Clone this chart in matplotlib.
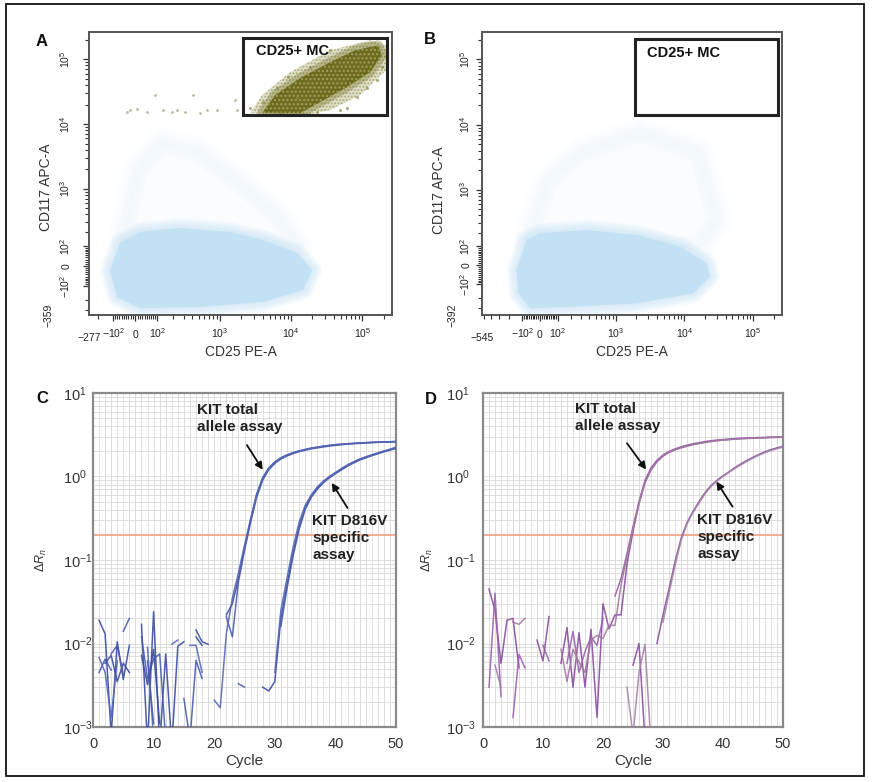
import numpy as np
import matplotlib
matplotlib.use('Agg')
import matplotlib.pyplot as plt
from matplotlib.patches import Rectangle
from matplotlib import transforms
from matplotlib.ticker import LogLocator, NullFormatter

plt.rcParams['font.family'] = 'Liberation Sans'
plt.rcParams['mathtext.fontset'] = 'custom'
plt.rcParams['mathtext.rm'] = 'Liberation Sans'
plt.rcParams['mathtext.it'] = 'Liberation Sans:italic'
plt.rcParams['mathtext.bf'] = 'Liberation Sans:bold'
plt.rcParams['hatch.linewidth'] = 1.0

nan = np.nan

# ---- flow cytometry (CD25 PE-A vs CD117 APC-A), outlines of the event clouds ----
a_core_x = [-119, -67, 20, 260, 1390, 4050, 12150, 19800, 14800, 4050, 470, 20, -82]
a_core_y = [-19, 118, 197, 233, 197, 137, 62, -19, -125, -215, -264, -275, -174]
a_haze_x = [-67, 0, 115, 520, 1920, 7000, 13400]
a_haze_y = [137, 1950, 5650, 3960, 1360, 392, 106]
a_mc_x = [3920, 5960, 13400, 35400, 79400, 167000, 190000, 129000, 57500, 25600, 13400]
a_mc_y = [14700, 27900, 51000, 89800, 137000, 164000, 115000, 63000, 35700, 21800, 14700]
a_mc_outer_x = [2660, 3920, 9700, 35400, 129000, 217000, 217000, 93300, 35400, 18500]
a_mc_outer_y = [14700, 27900, 63000, 137000, 196000, 164000, 67700, 27900, 16400, 14200]
a_mc_dots_x = [2660, 4040, 6360, 7010, 9090, 48900, 84700, 117000, 162000, 167000,
               138000, 190000, 18500, 12150, 23200, 35400, 61300]
a_mc_dots_y = [17600, 21800, 35700, 14700, 52800, 16400, 26000, 35700, 47500, 137000,
               147500, 75200, 75200, 26000, 15300, 137000, 17600]
a_stray_x = [-37, -22, 6, 49, 88, 134, 191, 231, 311, 414, 519, 648, 900, 1630, 1730]
a_stray_y = [15400, 16400, 16800, 15400, 27900, 16400, 15400, 16400, 15400, 27900,
             14600, 16400, 16400, 23300, 16400]
a_gate = [2120, 13700, 224000, 210600]

b_core_x = [-138, -74, 0, 368, 2040, 8640, 21100, 23500, 13450, 2040, 191, -54, -127]
b_core_y = [-23, 142, 194, 223, 180, 99, 10, -58, -162, -250, -286, -302, -162]
b_haze_x = [-84, 28, 287, 2280, 16800, 32800, 16800]
b_haze_y = [142, 1415, 4090, 8280, 4090, 330, 79]
b_gate = [1925, 14000, 226800, 202900]

flow_major = [-100, 0, 100, 1e3, 1e4, 1e5]
flow_labels = [r'$-10^2$', r'$0$', r'$10^2$', r'$10^3$', r'$10^4$', r'$10^5$']

# ---- real-time PCR, delta Rn per cycle (cycles 1..50) ----
cycles = np.arange(1, 51)
threshold = 0.2

c_tot1 = [0.019, 0.013, 0.0008, 0.0105, 0.0037, 0.0095, nan, 0.017, 0.0006, 0.024,
          0.0006, 0.0075, 0.0006, 0.0093, 0.0105, nan, 0.0145, 0.0105, 0.0098, nan,
          nan, 0.022, 0.03, 0.06, 0.14, 0.3, 0.6, 0.95, 1.25, 1.48,
          1.66, 1.8, 1.92, 2.02, 2.1, 2.18, 2.24, 2.3, 2.35, 2.4,
          2.43, 2.46, 2.49, 2.52, 2.54, 2.56, 2.58, 2.59, 2.6, 2.62]
c_tot2 = [0.0045, 0.0065, 0.0048, nan, 0.014, 0.02, nan, 0.012, 0.0038, 0.0065,
          0.0075, 0.0007, nan, nan, 0.0022, 0.0007, 0.0063, 0.0038, nan, nan,
          nan, 0.021, 0.012, 0.055, 0.13, 0.28, 0.56, 0.9, 1.2, 1.43,
          1.62, 1.76, 1.88, 1.98, 2.06, 2.14, 2.2, 2.26, 2.31, 2.36,
          2.4, 2.44, 2.47, 2.49, 2.52, 2.54, 2.56, 2.58, 2.59, 2.6]
c_tot3 = [0.0068, 0.0045, 0.0013, 0.0062, nan, nan, nan, nan, 0.009, 0.0007,
          nan, nan, 0.0098, 0.011, nan, 0.0095, 0.0095, 0.0045, nan, 0.0021,
          0.0017, 0.013, 0.035, 0.07, 0.15, 0.31, 0.62, 0.97, 1.27, 1.5,
          1.68, 1.82, 1.93, 2.03, 2.11, 2.19, 2.25, 2.31, 2.36, 2.41,
          2.44, 2.47, 2.5, 2.53, 2.55, 2.57, 2.59, 2.6, 2.61, 2.63]
c_mut1 = [nan, 0.0058, 0.0072, 0.0035, 0.0058, 0.0045, nan, 0.0072, 0.0032, 0.0085,
          0.0011, nan, nan, nan, nan, nan, 0.012, 0.0095, nan, nan,
          nan, nan, nan, nan, nan, nan, nan, 0.003, 0.0027, 0.0035,
          0.02, 0.05, 0.12, 0.25, 0.42, 0.58, 0.72, 0.86, 0.98, 1.1,
          1.22, 1.36, 1.48, 1.6, 1.7, 1.8, 1.9, 2.0, 2.1, 2.2]
c_mut2 = [0.0052, nan, 0.0075, 0.0095, 0.0042, nan, nan, nan, 0.0062, 0.0011,
          nan, nan, nan, nan, nan, nan, nan, nan, nan, nan,
          nan, nan, nan, 0.0033, 0.003, nan, nan, nan, nan, nan,
          0.016, 0.045, 0.11, 0.23, 0.4, 0.56, 0.7, 0.84, 0.96, 1.08,
          1.2, 1.33, 1.45, 1.57, 1.67, 1.77, 1.87, 1.97, 2.07, 2.17]
c_mut3 = [nan, nan, nan, nan, nan, nan, nan, nan, nan, nan,
          nan, nan, nan, nan, nan, nan, nan, nan, nan, nan,
          nan, nan, nan, nan, nan, nan, nan, nan, nan, 0.0045,
          0.025, 0.06, 0.14, 0.28, 0.45, 0.6, 0.75, 0.88, 1.0, 1.12,
          1.25, 1.38, 1.5, 1.62, 1.72, 1.82, 1.92, 2.02, 2.12, 2.25]

d_tot1 = [0.045, 0.025, 0.0058, 0.019, 0.02, 0.0051, nan, nan, 0.011, 0.0062,
          0.021, nan, 0.0058, 0.0155, 0.003, 0.0135, 0.003, 0.0148, 0.0013, 0.03,
          0.015, 0.022, 0.022, 0.09, 0.22, 0.48, 0.86, 1.22, 1.52, 1.77,
          1.96, 2.1, 2.23, 2.33, 2.43, 2.5, 2.58, 2.64, 2.7, 2.74,
          2.78, 2.82, 2.85, 2.87, 2.89, 2.91, 2.92, 2.94, 2.95, 2.96]
d_tot2 = [0.003, 0.04, 0.0023, nan, 0.0013, 0.0074, 0.0051, nan, nan, 0.0095,
          0.0062, nan, nan, 0.0058, 0.014, 0.0045, 0.008, 0.012, 0.0095, 0.02,
          nan, 0.037, 0.06, 0.12, 0.25, 0.5, 0.9, 1.27, 1.57, 1.81,
          2.0, 2.14, 2.27, 2.37, 2.47, 2.54, 2.62, 2.68, 2.73, 2.77,
          2.81, 2.84, 2.87, 2.89, 2.91, 2.93, 2.94, 2.96, 2.97, 2.98]
d_tot3 = [nan, 0.0055, 0.003, nan, 0.018, 0.017, 0.02, nan, nan, nan,
          nan, nan, 0.0085, 0.0035, 0.0085, 0.006, 0.0045, 0.011, 0.0125, 0.0115,
          0.0165, 0.0165, 0.05, 0.11, 0.24, 0.47, 0.84, 1.19, 1.5, 1.75,
          1.94, 2.08, 2.2, 2.3, 2.4, 2.48, 2.55, 2.62, 2.68, 2.72,
          2.76, 2.8, 2.83, 2.85, 2.87, 2.89, 2.91, 2.93, 2.94, 2.95]
d_mut1 = [nan, nan, nan, nan, nan, nan, nan, nan, nan, nan,
          nan, nan, nan, nan, nan, nan, nan, nan, nan, nan,
          nan, nan, nan, nan, 0.0055, 0.01, 0.0007, nan, 0.01, 0.022,
          0.045, 0.095, 0.18, 0.28, 0.38, 0.5, 0.64, 0.78, 0.9, 1.02,
          1.14, 1.28, 1.42, 1.56, 1.7, 1.84, 1.98, 2.1, 2.2, 2.3]
d_mut2 = [nan, nan, nan, nan, nan, nan, nan, nan, nan, nan,
          nan, nan, nan, nan, nan, nan, nan, nan, nan, nan,
          nan, nan, nan, 0.003, 0.0008, 0.0045, 0.0098, 0.0006, nan, 0.018,
          0.04, 0.085, 0.17, 0.27, 0.37, 0.48, 0.62, 0.76, 0.88, 1.0,
          1.12, 1.25, 1.38, 1.52, 1.66, 1.8, 1.93, 2.05, 2.15, 2.25]

c_runs = [c_tot1, c_tot2, c_tot3, c_mut1, c_mut2, c_mut3]
c_colors = ['#3a4ca2', '#4b5cb0', '#5867b4', '#3a4ca2', '#4b5cb0', '#5867b4']
d_runs = [d_tot1, d_tot2, d_tot3, d_mut1, d_mut2]
d_colors = ['#8a4c9f', '#9a62ae', '#a2799f', '#8a4c9f', '#a586a8']

BLUE = '#c3e1f5'


def soft_fill(ax, xs, ys, color, widths, alpha):
    # stack wide translucent strokes to fade the cloud edge
    for lw in widths:
        ax.fill(xs, ys, facecolor='none', edgecolor=color, lw=lw, alpha=alpha,
                joinstyle='round')


def flow_panel(ax, xmin, ymin, wx, wy, core, haze, gate, ypad):
    ax.set_xscale('asinh', linear_width=wx)
    ax.set_yscale('asinh', linear_width=wy)
    ax.set_xlim(xmin, 262144)
    ax.set_ylim(ymin, 262144)

    ax.fill(haze[0], haze[1], color=BLUE, alpha=0.07, lw=0)
    soft_fill(ax, haze[0], haze[1], BLUE, [18, 12, 6], 0.04)
    soft_fill(ax, core[0], core[1], BLUE, [14, 11, 8, 5, 2], 0.16)
    ax.fill(core[0], core[1], color=BLUE, lw=0)

    g = Rectangle((gate[0], gate[1]), gate[2] - gate[0], gate[3] - gate[1],
                  fill=False, ec='#222222', lw=2.2, zorder=5)
    ax.add_patch(g)
    ax.text(gate[0] * 1.5, gate[3] * 0.8, 'CD25+ MC', fontsize=10.5,
            fontweight='bold', va='top', ha='left', color='#111111', zorder=6)

    ax.set_xticks(flow_major, flow_labels)
    ax.set_yticks(flow_major, flow_labels)
    plt.setp(ax.get_xticklabels(), va='baseline')
    plt.setp(ax.get_yticklabels(), rotation=90, rotation_mode='anchor',
             ha='center', va='baseline')
    minor = ([-v for v in range(200, 1000, 100)] + [v for v in range(-90, 100, 10) if v != 0]
             + list(range(200, 1000, 100)) + list(range(2000, 10000, 1000))
             + list(range(20000, 100000, 10000)) + [200000])
    ax.set_xticks([m for m in minor if m > xmin], minor=True)
    ax.set_yticks([m for m in minor if m > ymin], minor=True)
    ax.tick_params(which='major', direction='out', length=4.5, width=0.9,
                   color='#333333', labelsize=7.5, labelcolor='#222222')
    ax.tick_params(which='minor', direction='out', length=2.8, width=0.8, color='#333333')
    ax.tick_params(axis='x', pad=12)
    ax.tick_params(axis='y', pad=ypad)
    for s in ax.spines.values():
        s.set_color('#555555')
        s.set_linewidth(1.4)

    ax.set_xlabel('CD25 PE-A', fontsize=10, color='#333333')
    ax.set_ylabel('CD117 APC-A', fontsize=10, color='#333333')
    return g


def qpcr_panel(ax, runs, colors, notes, ypad):
    ax.set_yscale('log')
    ax.set_xlim(0, 50)
    ax.set_ylim(1e-3, 10)
    ax.set_xticks([0, 10, 20, 30, 40, 50])
    ax.set_xticks(np.arange(0, 51), minor=True)
    ax.set_yticks([1e-3, 1e-2, 1e-1, 1, 10],
                  [r'$10^{-3}$', r'$10^{-2}$', r'$10^{-1}$', r'$10^{0}$', r'$10^{1}$'])
    plt.setp(ax.get_yticklabels(), ha='left')
    ax.yaxis.set_minor_locator(LogLocator(base=10, subs=np.arange(2, 10), numticks=50))
    ax.yaxis.set_minor_formatter(NullFormatter())
    ax.grid(which='both', color='#d9d9d9', lw=0.6)
    ax.set_axisbelow(True)
    ax.tick_params(which='both', length=0)
    ax.tick_params(axis='both', labelsize=10.5, labelcolor='#333333')
    ax.tick_params(axis='x', pad=7)
    ax.tick_params(axis='y', pad=ypad)
    for s in ax.spines.values():
        s.set_color('#8a8a8a')
        s.set_linewidth(1.6)

    ax.axhline(threshold, color='#f4a88c', lw=1.3, zorder=2)
    for vals, col in zip(runs, colors):
        ax.plot(cycles, vals, color=col, lw=1.1, alpha=0.9, zorder=3)

    for text, txy, tail, tip in notes:
        ax.text(txy[0], txy[1], text, fontsize=11, fontweight='bold', va='top',
                ha='left', linespacing=1.3, color='#222222', zorder=5)
        ax.annotate('', xy=tip, xytext=tail,
                    arrowprops=dict(arrowstyle='-|>', color='#111111', lw=1.3,
                                    mutation_scale=11, shrinkA=0, shrinkB=0))

    ax.set_xlabel('Cycle', fontsize=11, color='#333333')
    ax.set_ylabel(r'$\Delta R_n$', fontsize=9, color='#333333')


fig = plt.figure(figsize=(8.72, 7.82), dpi=100)
W, H = 872, 782


def box(l, t, r, b):
    return [l / W, 1 - b / H, (r - l) / W, (b - t) / H]


ax_a = fig.add_axes(box(89, 32, 392, 315))
ax_b = fig.add_axes(box(482, 32, 782, 315))
ax_c = fig.add_axes(box(93, 393, 396, 727))
ax_d = fig.add_axes(box(483, 393, 783, 727))

# panel A: gated CD25+ mast cells shown in olive
ga = flow_panel(ax_a, -277, -359, 130, 130, (a_core_x, a_core_y), (a_haze_x, a_haze_y), a_gate, 9)
mc_parts = []
mc_parts += ax_a.fill(a_mc_outer_x, a_mc_outer_y, facecolor='#c2c196', edgecolor='#7d7c35',
                      alpha=0.5, lw=0, hatch='.....')
mc_parts += ax_a.fill(a_mc_x, a_mc_y, facecolor='none', edgecolor='#6f6e1c',
                      alpha=0.35, lw=7, joinstyle='round')
mc_parts += ax_a.fill(a_mc_x, a_mc_y, facecolor='#666514', edgecolor='#a3a266',
                      alpha=0.92, lw=0, hatch='....')
mc_parts.append(ax_a.scatter(a_mc_dots_x, a_mc_dots_y, s=5, color='#8a8945', alpha=0.7, lw=0))
for art in mc_parts:
    art.set_clip_path(ga)
ax_a.scatter(a_stray_x, a_stray_y, s=4, color='#a8a78a', alpha=0.8, lw=0)

# panel B: no events inside the gate
flow_panel(ax_b, -545, -392, 160, 140, (b_core_x, b_core_y), (b_haze_x, b_haze_y), b_gate, 4.5)

ax_a.xaxis.set_label_coords(0.5, -0.105)
ax_a.yaxis.set_label_coords(-0.12, 0.45)
ax_b.xaxis.set_label_coords(0.5, -0.105)
ax_b.yaxis.set_label_coords(-0.12, 0.44)

for ax, xmin, ymin, lab_x, lab_y, yoff in [(ax_a, -277, -359, '\u2212277', '\u2212359', -0.135),
                                          (ax_b, -545, -392, '\u2212545', '\u2212392', -0.097)]:
    tx = transforms.blended_transform_factory(ax.transData, ax.transAxes)
    ax.text(xmin, -0.082, lab_x, transform=tx, fontsize=7.5, ha='center', va='center',
            color='#222222')
    ty = transforms.blended_transform_factory(ax.transAxes, ax.transData)
    ax.text(yoff, ymin, lab_y, transform=ty, fontsize=7.5, ha='center', va='center',
            rotation=90, color='#222222')

# panels C and D: KIT total allele vs KIT D816V specific amplification
qpcr_panel(ax_c, c_runs, c_colors,
           [('KIT total\nallele assay', (17.1, 7.6), (25.4, 2.38), (28.0, 1.2)),
            ('KIT D816V\nspecific\nassay', (36.2, 0.36), (42.0, 0.42), (39.4, 0.84))], 21.5)
qpcr_panel(ax_d, d_runs, d_colors,
           [('KIT total\nallele assay', (15.4, 7.9), (24.0, 2.5), (27.2, 1.21)),
            ('KIT D816V\nspecific\nassay', (35.7, 0.37), (41.6, 0.435), (38.9, 0.87))], 27)
ax_c.xaxis.set_label_coords(0.5, -0.08)
ax_d.xaxis.set_label_coords(0.5, -0.08)
ax_c.yaxis.set_label_coords(-0.145, 0.5)
ax_d.yaxis.set_label_coords(-0.16, 0.5)

for letter, (px, py) in zip('ABCD', [(42, 42), (430, 40), (42, 399), (431, 400)]):
    fig.text(px / W, 1 - py / H, letter, fontsize=12, fontweight='bold',
             ha='center', va='center', color='#111111')

fig.add_artist(Rectangle((6 / W, 1 - 776 / H), 858 / W, 772 / H, transform=fig.transFigure,
                         fill=False, ec='#111111', lw=1.3))

fig.savefig('out.png', dpi=100)
